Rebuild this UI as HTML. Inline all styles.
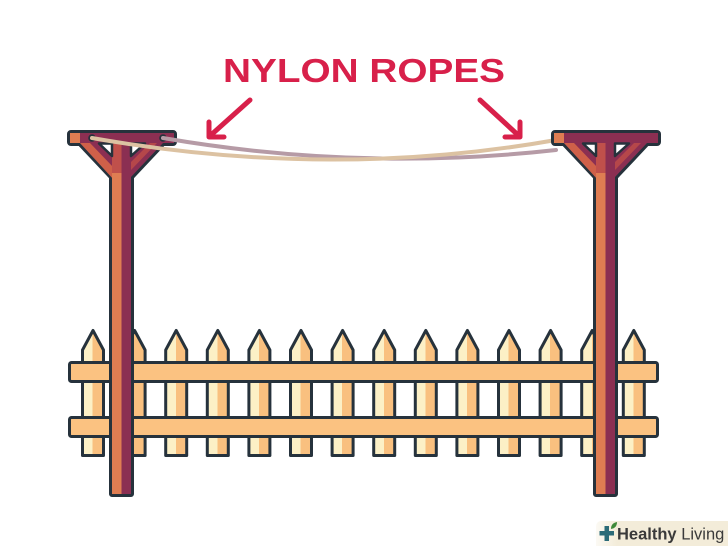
<!DOCTYPE html>
<html><head><meta charset="utf-8"><style>
html,body{margin:0;padding:0;background:#fff;}
svg{display:block;}
</style></head><body>
<svg width="728" height="546" viewBox="0 0 728 546" xmlns="http://www.w3.org/2000/svg">
<defs>
<linearGradient id="pk" x1="0" y1="0" x2="1" y2="0">
<stop offset="0" stop-color="#fcf0c6"/><stop offset="0.48" stop-color="#fcf0c6"/>
<stop offset="0.48" stop-color="#f9c07f"/><stop offset="1" stop-color="#f9c07f"/>
</linearGradient>
<linearGradient id="lg" x1="0" y1="0" x2="1" y2="0">
<stop offset="0" stop-color="#f3ecd9" stop-opacity="0.3"/><stop offset="0.15" stop-color="#f3ecd9"/><stop offset="1" stop-color="#f3ecd9"/>
</linearGradient>
<g id="picket">
<polygon points="-10.5,455.5 -10.5,350 0,330.5 10.5,350 10.5,455.5" fill="url(#pk)" stroke="#26323c" stroke-width="3" stroke-linejoin="round"/>
</g>
<g id="post">
<!-- outline layer -->
<g fill="#26323c" stroke="#26323c" stroke-width="6" stroke-linejoin="round">
<rect x="70" y="133" width="104" height="10" rx="1"/>
<polygon points="80,143 112,177 112,494 131,494 131,177 163,143"/>
</g>
<!-- fill layer -->
<g fill="#8b2f52">
<rect x="70" y="133" width="104" height="10"/>
<polygon points="80,143 112,177 112,494 131,494 131,177 163,143"/>
</g>
<polygon points="80,143 90,143 114,168 114,180" fill="#cf6049"/>
<polygon points="150,143 157,143 131,170 131,162" fill="#b5474a"/>
<rect x="112" y="143" width="9.5" height="30" fill="#c0504b"/>
<rect x="112" y="173" width="9.5" height="321" fill="#df7d52"/>
<rect x="70" y="133" width="10" height="10" fill="#df7d52"/>
<polygon points="99,143.5 112,143.5 112,156" fill="#fff" stroke="#26323c" stroke-width="2.5" stroke-linejoin="round"/>
<polygon points="131,143.5 145,143.5 131,156" fill="#fff" stroke="#26323c" stroke-width="2.5" stroke-linejoin="round"/>
</g>
</defs>

<!-- pickets -->
<use href="#picket" x="93"/>
<use href="#picket" x="134.6"/>
<use href="#picket" x="176.2"/>
<use href="#picket" x="217.8"/>
<use href="#picket" x="259.4"/>
<use href="#picket" x="301"/>
<use href="#picket" x="342.6"/>
<use href="#picket" x="384.2"/>
<use href="#picket" x="425.8"/>
<use href="#picket" x="467.4"/>
<use href="#picket" x="509"/>
<use href="#picket" x="550.6"/>
<use href="#picket" x="592.2"/>
<use href="#picket" x="633.8"/>

<!-- rails -->
<rect x="69.5" y="362.5" width="588" height="19" rx="2" fill="#fbc281" stroke="#26323c" stroke-width="3"/>
<rect x="69.5" y="417.5" width="588" height="19" rx="2" fill="#fbc281" stroke="#26323c" stroke-width="3"/>

<!-- left post -->
<use href="#post"/>
<circle cx="92" cy="138" r="3.8" fill="#26323c"/>
<circle cx="163" cy="138" r="3.8" fill="#26323c"/>

<!-- ropes -->
<path d="M163,138 Q360,172 556,150" fill="none" stroke="#b69ba6" stroke-width="4" stroke-linecap="round"/>
<path d="M92,138 Q330,180 556,140" fill="none" stroke="#dcc2a2" stroke-width="4" stroke-linecap="round"/>

<!-- right post -->
<use href="#post" x="484"/>

<!-- label -->
<text x="223" y="82" font-family="'Liberation Sans', sans-serif" font-weight="bold" font-size="33" fill="#d8204a" textLength="282" lengthAdjust="spacingAndGlyphs">NYLON ROPES</text>

<!-- arrows -->
<g stroke="#d8204a" stroke-width="5" stroke-linecap="round" stroke-linejoin="round" fill="none">
<line x1="250" y1="100" x2="211" y2="135"/>
<polyline points="209,122 209,137 224,137"/>
<line x1="480" y1="100" x2="518" y2="135"/>
<polyline points="520,122 520,137 505,137"/>
</g>

<!-- logo -->
<rect x="596" y="521" width="140" height="30" rx="5" fill="url(#lg)"/>
<rect x="604.5" y="526" width="4.5" height="15" fill="#2b6b78"/>
<rect x="599.5" y="531" width="14.5" height="4.5" fill="#2b6b78"/>
<path d="M611,529 Q611,523 617,522 Q617,528 611,529 Z" fill="#3f8a3a"/>
<text x="617" y="539.5" font-family="'Liberation Sans', sans-serif" font-size="16.5" fill="#3a3a3a"><tspan font-weight="bold">Healthy</tspan> Living</text>
</svg>
</body></html>
